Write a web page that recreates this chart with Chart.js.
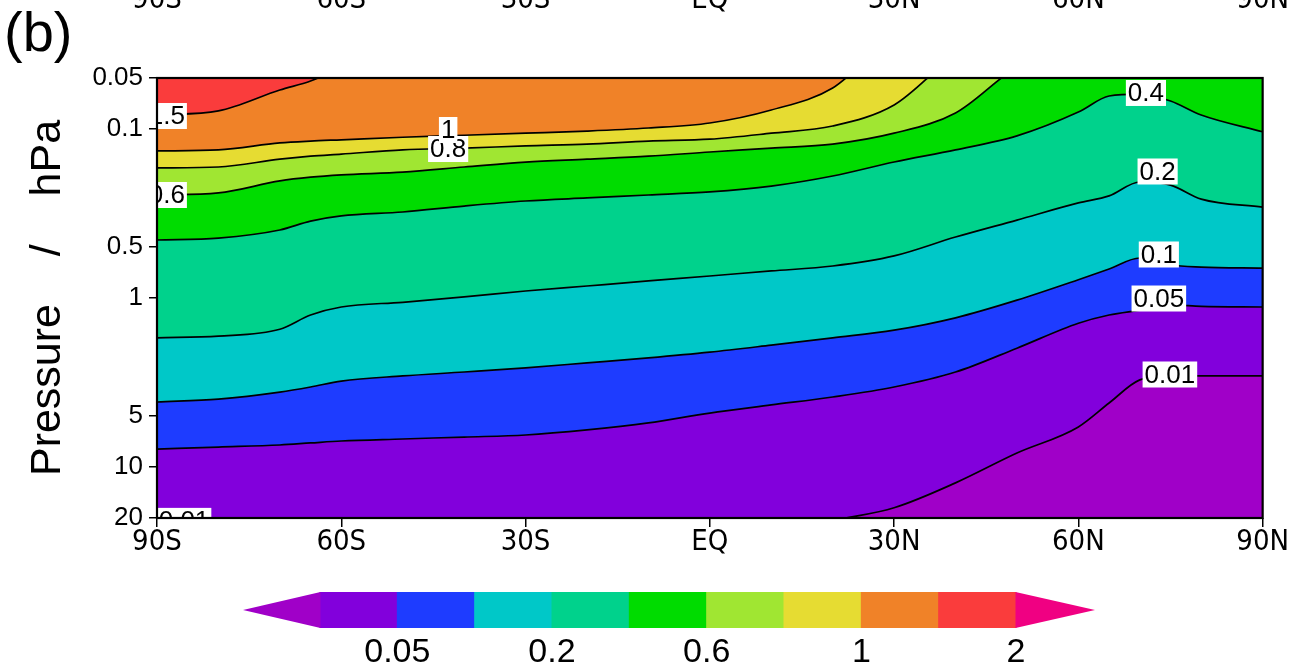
<!DOCTYPE html>
<html><head><meta charset="utf-8">
<script src="https://cdn.jsdelivr.net/npm/chart.js@4.4.1/dist/chart.umd.min.js"></script>
<style>html,body{margin:0;padding:0;background:#fff;overflow:hidden}canvas{display:block}</style>
</head><body>
<canvas id="c" width="1290" height="666"></canvas>
<script>
// ---------- data (latitude in degrees, contour positions as pressure in hPa) ----------
const lats = [-90,-80,-70,-65,-60,-50,-40,-30,-20,-10,0,10,20,30,40,50,60,65,70,75,80,90];
const c1_5  = [0.0828,0.0783,0.0589,0.0521,0.0436,0.035,0.03,0.03,0.03,0.03,0.03,0.03,0.03,0.03,0.03,0.03,0.03,0.03,0.03,0.03,0.03,0.03];
const c1    = [0.135,0.133,0.121,0.118,0.116,0.112,0.109,0.106,0.103,0.0988,0.0923,0.0773,0.0573,0.028,0.02,0.02,0.02,0.02,0.02,0.02,0.02,0.02];
const c0_8  = [0.170,0.168,0.151,0.145,0.141,0.133,0.130,0.126,0.123,0.118,0.115,0.106,0.0961,0.0722,0.0366,0.025,0.025,0.025,0.025,0.025,0.025,0.025];
const c0_6  = [0.246,0.239,0.203,0.193,0.187,0.180,0.168,0.157,0.151,0.145,0.137,0.130,0.123,0.106,0.0805,0.043,0.03,0.03,0.03,0.03,0.03,0.03];
const c0_4  = [0.454,0.442,0.396,0.351,0.327,0.310,0.286,0.267,0.256,0.246,0.236,0.218,0.190,0.157,0.133,0.110,0.0795,0.0639,0.0622,0.0684,0.0828,0.104];
const c0_2  = [1.72,1.68,1.53,1.26,1.13,1.06,0.986,0.909,0.849,0.793,0.741,0.692,0.647,0.564,0.436,0.346,0.274,0.249,0.206,0.215,0.260,0.290];
const c0_1  = [4.12,3.96,3.60,3.36,3.10,2.89,2.74,2.59,2.42,2.26,2.09,1.90,1.72,1.55,1.31,1.03,0.78,0.674,0.580,0.638,0.656,0.665];
const c0_05 = [7.82,7.61,7.40,7.20,7.01,6.82,6.64,6.46,6.03,5.48,4.79,4.29,3.85,3.36,2.74,1.98,1.41,1.26,1.18,1.10,1.12,1.13];
const c0_01 = [30,30,30,30,30,30,30,30,30,30,30,26,20.8,17.4,12.4,8.26,5.79,4.18,3.05,2.89,2.89,2.89];

const levels = [1.5,1,0.8,0.6,0.4,0.2,0.1,0.05,0.01];
const contourSeries = [c1_5,c1,c0_8,c0_6,c0_4,c0_2,c0_1,c0_05,c0_01];

const xTickVals = [-90,-60,-30,0,30,60,90];
const xTickLabels = ['90S','60S','30S','EQ','30N','60N','90N'];
const yTickVals = [0.05,0.1,0.5,1,5,10,20];
const yTickLabels = ['0.05','0.1','0.5','1','5','10','20'];

const cbLevels = ['0.01','0.05','0.1','0.2','0.4','0.6','0.8','1','1.5','2'];
const cbShown  = ['0.05','0.2','0.6','1','2'];

const labelTexts = ['0.4','0.2','0.1','0.05','0.01','1.5','0.6','0.8','1','0.01'];
const labelLats  = [71.0,72.9,73.1,73.1,74.9,-88.4,-88.4,-42.6,-42.6,-85.6];
const labelPres  = [0.0613,0.1786,0.553,1.007,2.834,0.0839,0.246,0.1315,0.1015,20.8];

// ---------- styles ----------
const fillColors = ['#FA3C3C','#F08228','#E6DC32','#A0E632','#00DC00','#00D28C','#00C8C8','#1E3CFF','#8200DC'];
const belowColor = '#A000C8';
const aboveColor = '#F00082';
const cbColors = ['#8200DC','#1E3CFF','#00C8C8','#00D28C','#00DC00','#A0E632','#E6DC32','#F08228','#FA3C3C'];

function hasFont(name){
  const c = document.createElement('canvas').getContext('2d');
  c.font = '40px monospace'; const w1 = c.measureText('0123456789SNEQ').width;
  c.font = '40px "'+name+'", monospace'; const w2 = c.measureText('0123456789SNEQ').width;
  return Math.abs(w1-w2) > 0.5;
}
const narrowName = ['Liberation Sans Narrow','DejaVu Sans Condensed','Roboto Condensed'].find(hasFont);
const xFont = narrowName ? {family:'"'+narrowName+'", "Liberation Sans", Arial, sans-serif', size:29, lineHeight:1.0}
                         : {family:'"Liberation Sans", Arial, sans-serif', size:27, lineHeight:1.0};
const baseFam = '"Liberation Sans", Arial, sans-serif';

const decor = {
  id: 'decor',
  beforeDraw(chart){
    const ctx = chart.ctx; ctx.save(); ctx.fillStyle = '#fff'; ctx.fillRect(0,0,chart.width,chart.height); ctx.restore();
  },
  beforeDatasetsDraw(chart){
    const {ctx, chartArea:a} = chart;
    ctx.save(); ctx.fillStyle = belowColor; ctx.fillRect(a.left,a.top,a.right-a.left,a.bottom-a.top); ctx.restore();
  },
  afterDatasetsDraw(chart){
    const {ctx, chartArea:a, scales:{x,y}} = chart;
    ctx.save();
    ctx.beginPath(); ctx.rect(a.left,a.top,a.right-a.left,a.bottom-a.top); ctx.clip();
    ctx.font = '26px ' + baseFam; ctx.textAlign = 'center'; ctx.textBaseline = 'middle';
    labelTexts.forEach((t,i)=>{
      const px = x.getPixelForValue(labelLats[i]), py = y.getPixelForValue(labelPres[i]);
      const w = ctx.measureText(t).width + 4;
      ctx.fillStyle = '#fff'; ctx.fillRect(px-w/2, py-13, w, 26);
      ctx.fillStyle = '#000'; ctx.fillText(t, px, py+1);
    });
    ctx.restore();
    ctx.save(); ctx.strokeStyle = '#000'; ctx.lineWidth = 2.2;
    ctx.strokeRect(a.left,a.top,a.right-a.left,a.bottom-a.top); ctx.restore();
  },
  afterDraw(chart){
    const {ctx, scales:{x}} = chart;
    ctx.save();
    // panel tag
    ctx.fillStyle = '#000'; ctx.font = '56px ' + baseFam; ctx.textAlign = 'left'; ctx.textBaseline = 'alphabetic';
    ctx.fillText('(b)', 4, 51);
    // cut-off axis labels of the panel above
    ctx.font = xFont.size + 'px ' + xFont.family; ctx.textAlign = 'center';
    xTickVals.forEach((v,i)=> ctx.fillText(xTickLabels[i], x.getPixelForValue(v), 8));
    // colour bar
    const L = 320, R = 1016, top = 592, bot = 628, mid = (top+bot)/2;
    const bw = (R-L)/cbColors.length;
    cbColors.forEach((c,i)=>{ ctx.fillStyle = c; ctx.fillRect(L+i*bw-0.5, top, bw+1, bot-top); });
    ctx.fillStyle = belowColor; ctx.beginPath(); ctx.moveTo(L+0.5,top); ctx.lineTo(243,mid); ctx.lineTo(L+0.5,bot); ctx.closePath(); ctx.fill();
    ctx.fillStyle = aboveColor; ctx.beginPath(); ctx.moveTo(R-0.5,top); ctx.lineTo(1095,mid); ctx.lineTo(R-0.5,bot); ctx.closePath(); ctx.fill();
    ctx.fillStyle = '#000'; ctx.font = '34px ' + baseFam; ctx.textAlign = 'center'; ctx.textBaseline = 'middle';
    cbShown.forEach(t=>{ const k = cbLevels.indexOf(t); ctx.fillText(t, L + k*bw, 653); });
    ctx.restore();
  }
};

const datasets = contourSeries.map((s,i)=>({
  label: 'contour ' + levels[i],
  data: lats.map((lat,j)=>({x: lat, y: s[j]})),
  borderColor: '#000', borderWidth: 1.7,
  backgroundColor: fillColors[i],
  fill: {value: 0.05},
  pointRadius: 0, pointHoverRadius: 0,
  cubicInterpolationMode: 'monotone',
  clip: 0,
  order: i
}));

new Chart(document.getElementById('c'), {
  type: 'line',
  data: {datasets},
  options: {
    responsive: false, animation: false, devicePixelRatio: 1,
    events: [],
    layout: {padding: {left: 0, right: 26, top: 78, bottom: 108}},
    plugins: {legend: {display: false}, tooltip: {enabled: false}, title: {display: false}},
    scales: {
      x: {
        type: 'linear', min: -90, max: 90,
        afterBuildTicks: s => { s.ticks = xTickVals.map(v => ({value: v})); },
        afterFit: s => { s.height = 40; },
        ticks: {callback: (v,i) => xTickLabels[i], font: xFont, color: '#000', padding: 1, maxRotation: 0, autoSkip: false},
        grid: {display: true, drawOnChartArea: false, drawTicks: true, tickLength: 9, color: '#000', lineWidth: 1.5},
        border: {display: false}
      },
      y: {
        type: 'logarithmic', reverse: true, min: 0.05, max: 20,
        afterBuildTicks: s => { s.ticks = yTickVals.map(v => ({value: v})); },
        afterFit: s => { s.width = 157; },
        ticks: {callback: (v,i) => yTickLabels[i], font: {family: baseFam, size: 26}, color: '#000', padding: 6, autoSkip: false},
        grid: {display: true, drawOnChartArea: false, drawTicks: true, tickLength: 8, color: '#000', lineWidth: 1.5},
        border: {display: false},
        title: {display: true, text: 'Pressure    /    hPa', color: '#000', font: {family: baseFam, size: 43, lineHeight: 1.2}, padding: {top: 22, bottom: 0}}
      }
    }
  },
  plugins: [decor]
});
</script>
</body></html>
